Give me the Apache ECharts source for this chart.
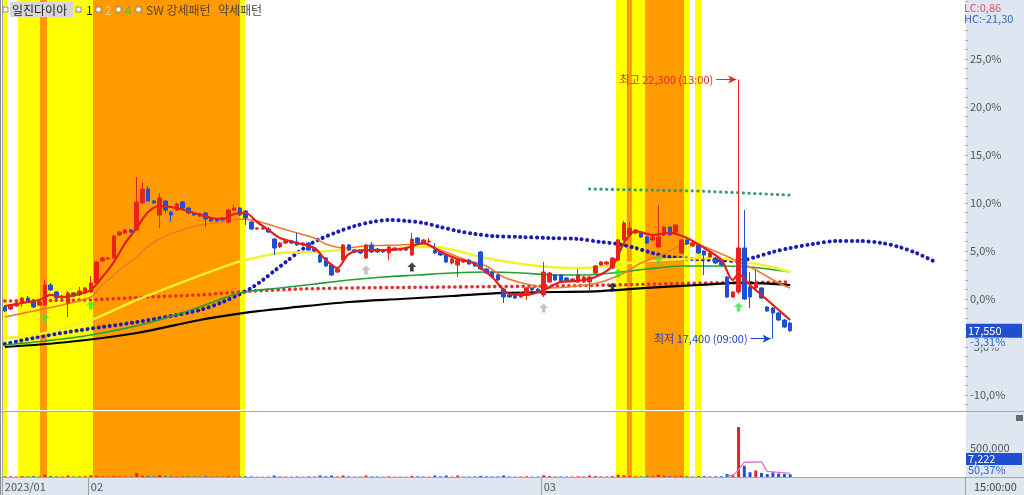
<!DOCTYPE html>
<html><head><meta charset="utf-8">
<script src="https://cdn.jsdelivr.net/npm/echarts@6/dist/echarts.min.js"></script>
<style>html,body{margin:0;padding:0;background:#fff}#c{width:1024px;height:495px}</style>
</head><body><div id="c"></div>
<script>
// ---------------- DATA ----------------
const SLOTS = 168;
const categories = Array.from({length: SLOTS}, (_, i) => String(i));
const xLabelIdx = [0, 15, 94];
const xLabelText = ['2023/01', '02', '03'];
const yLabelValues = [-10, -5, 0, 5, 10, 15, 20, 25];
const yMinorValues = [-11,-10,-9,-8,-7,-6,-5,-4,-3,-2,-1,0,1,2,3,4,5,6,7,8,9,10,11,12,13,14,15,16,17,18,19,20,21,22,23,24,25,26,27,28,29,30,31];

const openV = [-0.83,-1.04,-0.73,-0.42,0.10,-0.21,-0.63,-0.63,1.46,0.73,
0.10,-0.42,0.63,0.42,0.63,0.73,1.67,3.96,4.17,4.27,
6.67,6.88,7.19,7.19,10.00,11.46,10.21,8.75,10.21,9.06,
9.27,10.10,9.48,8.96,8.85,8.96,8.33,8.33,8.44,8.02,
9.27,9.48,9.17,8.02,7.29,7.29,7.29,6.25,5.42,5.83,
6.04,5.94,5.63,5.83,5.31,4.58,4.27,3.54,2.81,4.06,
5.63,5.10,5.00,4.27,5.63,5.21,5.10,4.79,5.10,5.10,
5.21,4.58,6.35,5.83,5.94,5.10,4.90,4.58,3.75,3.54,
3.85,4.06,3.75,4.90,3.13,2.81,2.50,1.04,0.42,0.52,
0.21,0.42,1.15,1.04,0.42,1.77,2.50,2.50,2.19,1.88,
1.77,1.77,1.77,2.71,3.54,3.65,3.23,4.06,6.15,6.67,
6.88,6.98,6.46,6.15,5.42,6.67,7.50,6.98,4.79,6.15,
5.52,5.63,5.00,4.38,4.27,4.06,2.29,0.21,0.73,5.31,
1.25,1.15,1.15,-0.83,-0.94,-1.46,-2.19,-2.50];
const closeV = [-1.25,-0.63,-0.42,0.10,-0.21,-0.83,-0.31,1.46,0.94,0.10,
0.31,0.63,0.31,0.83,1.15,1.67,3.85,4.27,4.27,6.56,
6.98,7.19,6.98,10.10,11.46,10.21,10.00,10.52,9.27,8.75,
9.90,9.48,8.96,8.75,8.65,8.33,8.13,8.13,8.23,9.27,
9.48,8.75,8.44,7.29,7.40,7.40,6.98,5.31,5.83,6.04,
5.83,5.63,5.83,5.10,5.00,3.85,3.44,2.50,3.13,5.63,
5.10,4.90,4.79,5.63,4.90,4.90,4.90,5.42,5.31,5.21,
5.10,6.25,5.83,6.15,6.04,4.79,4.58,3.85,4.17,4.06,
4.06,3.65,3.44,3.13,2.71,2.29,1.98,0.21,0.21,0.10,
0.63,1.15,0.94,0.83,2.81,2.71,1.98,1.77,1.88,2.08,
2.50,2.29,2.29,3.44,3.85,3.85,4.27,6.15,7.92,7.40,
7.19,6.46,5.83,6.46,6.46,7.50,6.67,7.71,6.15,5.73,
5.83,4.79,4.58,4.79,3.75,3.54,0.21,0.73,5.31,0,
0.21,1.77,0.10,-1.25,-1.46,-2.19,-2.92,-3.31];
const lowV = [-1.35,-1.15,-0.83,-0.83,-0.31,-0.94,-0.73,-0.73,0.83,0,
0,-1.88,0.21,0.31,0.52,0.63,1.56,3.85,4.06,4.17,
6.56,6.77,6.88,7.08,9.90,10.10,9.90,7.40,8.96,8.02,
9.17,9.38,8.85,8.65,8.54,7.50,8.02,8.02,8.13,7.92,
9.17,8.65,7.71,7.19,7.19,7.19,6.88,4.58,5.31,5.73,
5.73,5.52,5.52,5.00,4.90,3.75,3.33,2.40,2.71,3.96,
5.00,4.79,4.69,4.17,4.79,4.79,4.79,4.06,5.00,5.00,
5.00,4.48,5.73,5.73,5.83,4.69,4.48,3.75,3.65,2.29,
3.75,3.54,3.33,3.02,2.60,2.19,1.88,-0.42,0.10,0,
0.10,-0.10,0.83,0.73,0.21,1.67,1.88,1.67,1.77,1.77,
1.67,1.67,0.94,2.60,3.44,3.54,3.13,3.96,6.04,6.56,
6.77,6.35,5.73,6.04,5.31,6.56,6.56,6.88,4.69,5.63,
5.42,4.69,2.50,4.27,3.65,3.44,0.10,0.10,0.52,-0.10,
-0.94,1.04,0,-1.35,-4.14,-2.29,-3.02,-3.44];
const highV = [-0.63,-0.52,-0.31,0.21,0.31,-0.10,-0.21,1.98,1.67,0.83,
0.42,0.83,0.73,1.25,1.25,2.40,3.96,4.38,4.38,6.67,
7.08,7.29,7.29,12.71,12.19,11.77,10.31,11.04,10.31,9.17,
10.00,10.21,9.58,9.06,8.96,9.06,8.44,8.44,8.54,9.38,
9.79,9.58,9.27,8.13,7.50,7.50,7.50,6.35,5.94,6.15,
6.15,6.88,5.94,5.94,5.42,4.69,4.38,3.65,3.23,5.73,
5.73,5.21,5.10,5.73,5.94,5.31,5.21,5.52,5.42,5.31,
5.31,6.88,6.46,6.25,6.35,5.83,5.00,4.69,4.27,4.17,
4.17,4.17,3.85,5.00,3.23,2.92,2.60,1.15,0.52,0.63,
0.73,1.25,1.25,1.15,3.85,2.81,2.60,2.60,2.29,2.19,
3.13,2.40,2.40,3.54,3.96,3.96,4.38,6.25,8.13,8.02,
7.29,7.08,6.56,6.56,9.79,7.60,7.60,7.81,6.25,6.25,
5.94,5.73,5.10,4.90,4.38,4.17,2.40,0.83,22.86,9.27,
2.81,3.02,1.25,-0.73,-0.83,-1.35,-2.08,-2.40];

const volumeV = [9000,12000,8000,15000,10000,12000,9000,40000,14000,10000,
9000,25000,8000,10000,12000,30000,18000,10000,8000,16000,
9000,8000,7000,70000,20000,15000,9000,30000,12000,10000,
8000,9000,10000,7000,6000,12000,6000,5000,6000,14000,
8000,10000,12000,9000,6000,5000,7000,25000,10000,8000,
7000,9000,6000,10000,8000,25000,12000,25000,9000,25000,
10000,7000,6000,25000,9000,8000,6000,12000,7000,6000,
5000,20000,10000,8000,7000,25000,9000,25000,8000,25000,
7000,8000,9000,18000,10000,9000,10000,25000,8000,7000,
8000,12000,6000,7000,30000,15000,9000,10000,7000,8000,
12000,9000,25000,15000,10000,9000,14000,40000,30000,18000,
12000,10000,12000,9000,35000,15000,12000,14000,20000,10000,
9000,12000,14000,9000,10000,12000,50000,40000,846000,190000,
80000,110000,70000,50000,80000,60000,50000,45000];
const volMaPts = [[126,18000],[127,25000],[128,120000],[129,250000],[132,255000],[133,95000],[137,60000]];

// moving averages: [slot, percent]
const maRed = [[0,-0.73],[3,-0.42],[6,-0.10],[8,0.42],[10,0.21],[13,0.52],[15,0.94],[17,2.29],[19,3.85],[21,5.83],[23,7.40],[25,9.06],[27,9.69],[30,9.48],[33,8.96],[36,8.44],[38,8.33],[40,8.85],[42,8.96],[44,8.02],[46,7.19],[48,6.35],[51,5.83],[54,5.31],[56,4.06],[58,3.23],[60,4.69],[63,5.10],[67,5.10],[70,5.31],[73,5.83],[76,4.90],[79,4.17],[82,3.65],[85,2.29],[88,0.52],[91,0.42],[94,0.94],[97,1.77],[100,1.88],[103,2.29],[106,3.44],[108,5.83],[110,7.08],[113,6.67],[116,6.88],[119,6.35],[122,5.31],[125,4.06],[127,1.98],[128,2.60],[130,1.46],[133,-0.10],[135,-1.15],[137,-2.19]];
const maOrange = [[0,-1.88],[5,-1.25],[10,-0.63],[15,0.21],[17,1.46],[20,3.02],[23,4.38],[25,5.52],[28,6.56],[31,7.19],[34,7.71],[38,8.02],[41,8.33],[44,8.13],[48,7.40],[51,6.88],[54,6.35],[56,5.73],[59,5.31],[63,5.52],[69,5.63],[73,5.73],[76,5.10],[80,4.17],[84,3.44],[87,2.29],[91,1.56],[95,1.15],[100,1.35],[104,1.77],[108,2.71],[111,3.75],[115,4.69],[118,5.63],[120,5.83],[123,5.21],[127,4.17],[131,3.02],[135,1.67],[137,1.15]];
const maYellow = [[0,-4.06],[7,-3.54],[15,-2.19],[23,-0.10],[31,1.77],[39,3.54],[42,4.06],[48,4.79],[54,4.90],[60,5.10],[66,5.10],[71,5.42],[75,5.42],[79,5.00],[83,4.38],[89,3.75],[95,3.33],[101,3.23],[106,3.54],[112,3.96],[118,4.17],[124,4.27],[129,3.85],[133,3.44],[137,2.81]];
const maGreen = [[0,-4.79],[7,-4.38],[15,-3.75],[25,-2.50],[34,-0.83],[41,0.63],[48,1.15],[54,1.56],[60,1.98],[66,2.29],[72,2.50],[78,2.71],[84,2.81],[90,2.71],[96,2.50],[101,2.50],[106,2.71],[112,3.13],[118,3.44],[124,3.44],[130,3.33],[137,2.81]];
const maBlack = [[0,-5.00],[11,-4.48],[23,-3.54],[34,-2.19],[43,-1.35],[51,-0.83],[60,-0.31],[69,0],[78,0.31],[87,0.63],[96,0.73],[104,0.83],[112,1.15],[121,1.46],[129,1.67],[137,1.46]];
const dotRed = [[0,-0.21],[15,-0.10],[25,0.21],[34,0.42],[43,0.83],[51,1.04],[60,1.15],[78,1.25],[96,1.35],[106,1.46],[122,1.67],[137,1.77]];
const dotBlue = [[0,-4.69],[5,-4.06],[11,-3.44],[17,-2.92],[23,-2.40],[29,-1.77],[34,-1.15],[38,-0.31],[41,0.52],[43,1.15],[45,1.98],[47,2.92],[49,3.85],[51,4.79],[53,5.63],[55,6.25],[58,6.98],[61,7.60],[64,8.02],[67,8.23],[70,8.13],[73,7.92],[76,7.50],[79,7.08],[82,6.77],[85,6.56],[90,6.46],[95,6.35],[100,6.25],[104,5.94],[107,5.73],[110,5.31],[113,4.79],[116,4.38],[120,4.17],[124,4.06],[128,3.96],[131,4.38],[134,4.90],[137,5.31],[141,5.73],[145,6.04],[149,6.04],[153,5.83],[156,5.42],[159,4.79],[162,3.96]];
const dotGreen = [[102,11.46],[121,11.25],[137,10.83]];

const arrowIdx = [7, 15, 63, 71, 94, 106, 107, 114, 128];
const arrowVal = [-1.98, -0.63, 3.02, 3.33, -0.94, 1.25, 2.71, 4.06, -0.83];
const arrowColor = ['#3ce23c','#3ce23c','#b4b4b4','#111111','#b4b4b4','#111111','#3ce23c','#3ce23c','#3ce23c'];

// background pattern bands in slot units
const bandStart = [0.2, 2.79, 6.63, 7.85, 15.88, 41.52, 107.1, 109.0, 109.9, 112.2, 118.98, 120.9];
const bandEnd   = [0.9, 6.63, 7.85, 15.88, 41.52, 42.39, 109.0, 109.9, 112.2, 118.98, 120.0, 121.95];
const bandKind  = ['Y','Y','O','Y','O','Y','Y','O','Y','O','Y','Y'];

const highIdx = 128, highVal = 22.86, highText = '최고 22,300 (13:00)';
const lowIdx = 134, lowVal = -4.14, lowText = '최저 17,400 (09:00)';
const lastPriceText = '17,550', lastPctText = '-3,31%';
const volTagText = '7,222', volPctText = '50,37%';

// ---------------- CHART ----------------
const FONT = "'Noto Sans CJK KR','Noto Sans',sans-serif";
const YEL = '#ffff00', ORG = '#ff9a00';
const UP = '#e8231e', DN = '#1f50d4';
const PANEL = '#dde6f1';
const Y_MIN = -11.5625, Y_MAX = 31.146;
const chart = echarts.init(document.getElementById('c'));

const candleData = openV.map((o, i) => [o, closeV[i], lowV[i], highV[i]]);
const bandAreas = bandStart.map((s, i) => [
  {xAxis: s, itemStyle: {color: bandKind[i] === 'Y' ? YEL : ORG, opacity: 1}},
  {xAxis: bandEnd[i]}
]);
const arrowPath = 'path://M5,0 L10,5 L7,5 L7,10 L3,10 L3,5 L0,5 Z';
const dotStyle = (c, w, gap) => ({color: c, width: w, type: [0.1, gap], cap: 'round'});

const option = {
  animation: false,
  textStyle: {fontFamily: FONT},
  grid: [
    {left: 2, right: 59, top: 0, height: 410},
    {left: 2, right: 59, top: 412, height: 65}
  ],
  xAxis: [
    {type: 'category', gridIndex: 0, data: categories, boundaryGap: true,
     axisLine: {show: false}, axisTick: {show: false}, axisLabel: {show: false}, splitLine: {show: false}},
    {type: 'category', gridIndex: 1, data: categories, boundaryGap: true,
     axisLine: {show: true, lineStyle: {color: '#a0a0a0'}},
     axisTick: {show: true, length: 18, interval: (i) => xLabelIdx.includes(i), lineStyle: {color: '#a0a0a0'}},
     axisLabel: {interval: (i) => xLabelIdx.includes(i), align: 'left', color: '#555', fontSize: 11, margin: 4,
       formatter: (v, i) => { const k = xLabelIdx.indexOf(i); return k >= 0 ? xLabelText[k] : ''; }},
     splitLine: {show: false}},
    {type: 'value', gridIndex: 0, min: 0, max: SLOTS, show: false},
    {type: 'value', gridIndex: 1, min: 0, max: SLOTS, show: false}
  ],
  yAxis: [
    {type: 'value', gridIndex: 0, position: 'right', min: Y_MIN, max: Y_MAX,
     splitLine: {show: false},
     axisLine: {show: true, lineStyle: {color: '#a0a0a0'}},
     axisTick: {show: true, length: 5, customValues: yLabelValues, lineStyle: {color: '#999'}},
     axisLabel: {customValues: yLabelValues, color: '#555', fontSize: 11, margin: 5,
       formatter: v => v.toFixed(1).replace('.', ',') + '%'}},
    {type: 'value', gridIndex: 1, position: 'right', min: 0, max: 1100000, interval: 500000,
     splitLine: {show: false},
     axisLine: {show: true, lineStyle: {color: '#a0a0a0'}},
     axisTick: {show: true, length: 5, lineStyle: {color: '#999'}},
     minorTick: {show: true, splitNumber: 5, length: 3, lineStyle: {color: '#aaa'}},
     axisLabel: {color: '#555', fontSize: 11, margin: 5, formatter: v => v === 500000 ? '500,000' : ''}},
    {type: 'value', gridIndex: 0, position: 'right', min: Y_MIN, max: Y_MAX,
     splitLine: {show: false}, axisLine: {show: false},
     axisTick: {show: true, length: 3, customValues: yMinorValues, lineStyle: {color: '#aaa'}},
     axisLabel: {show: false}}
  ],
  series: [
    {type: 'line', name: 'bandsMain', xAxisIndex: 2, yAxisIndex: 0, data: [[0, 0]], symbol: 'none',
     lineStyle: {opacity: 0}, silent: true, z: 0,
     markArea: {silent: true, data: bandAreas}},
    {type: 'line', name: 'bandsVol', xAxisIndex: 3, yAxisIndex: 1, data: [[0, 0]], symbol: 'none',
     lineStyle: {opacity: 0}, silent: true, z: 0,
     markArea: {silent: true, data: bandAreas}},
    {type: 'line', xAxisIndex: 0, yAxisIndex: 0, data: dotRed, symbol: 'none', z: 2,
     lineStyle: dotStyle('#e8302a', 3.6, 5.6)},
    {type: 'line', xAxisIndex: 0, yAxisIndex: 0, data: dotBlue, symbol: 'none', smooth: 0.3, z: 2,
     lineStyle: dotStyle('#1c1cb4', 4, 5.5)},
    {type: 'line', xAxisIndex: 0, yAxisIndex: 0, data: dotGreen, symbol: 'none', z: 2,
     lineStyle: dotStyle('#3a9a6c', 3.2, 5.6)},
    {type: 'line', xAxisIndex: 0, yAxisIndex: 0, data: maBlack, symbol: 'none', smooth: 0.3, z: 3,
     lineStyle: {color: '#000', width: 2.2}},
    {type: 'line', xAxisIndex: 0, yAxisIndex: 0, data: maGreen, symbol: 'none', smooth: 0.3, z: 3,
     lineStyle: {color: '#22a032', width: 1.6}},
    {type: 'line', xAxisIndex: 0, yAxisIndex: 0, data: maYellow, symbol: 'none', smooth: 0.3, z: 3,
     lineStyle: {color: '#f4f22a', width: 2.4}},
    {type: 'line', xAxisIndex: 0, yAxisIndex: 0, data: maOrange, symbol: 'none', smooth: 0.3, z: 3,
     lineStyle: {color: '#f07a28', width: 1.6}},
    {type: 'candlestick', xAxisIndex: 0, yAxisIndex: 0, data: candleData, barWidth: 4, z: 4,
     itemStyle: {color: UP, color0: DN, borderColor: UP, borderColor0: DN, borderWidth: 1}},
    {type: 'line', xAxisIndex: 0, yAxisIndex: 0, data: maRed, symbol: 'none', smooth: 0.3, z: 5,
     lineStyle: {color: '#e41e1a', width: 2.2}},
    {type: 'scatter', xAxisIndex: 0, yAxisIndex: 0, z: 6, symbol: arrowPath, symbolSize: [9, 9],
     data: arrowIdx.map((ix, i) => ({value: [ix, arrowVal[i]], itemStyle: {color: arrowColor[i]}}))},
    {type: 'line', name: 'notes', xAxisIndex: 2, yAxisIndex: 0, data: [[0, 0]], symbol: 'none',
     lineStyle: {opacity: 0}, silent: true, z: 7,
     markLine: {silent: true, symbol: ['none', 'arrow'], symbolSize: [6, 8], animation: false,
       data: [
         [{coord: [highIdx - 3.4, highVal], lineStyle: {color: '#e02828', width: 1, type: 'solid'},
           label: {show: true, position: 'start', formatter: highText, color: '#e02828', fontSize: 11, fontFamily: FONT, distance: 3}},
          {coord: [highIdx + 0.1, highVal]}],
         [{coord: [lowIdx - 3.4, lowVal], lineStyle: {color: '#2040c8', width: 1, type: 'solid'},
           label: {show: true, position: 'start', formatter: lowText, color: '#2040c8', fontSize: 11, fontFamily: FONT, distance: 3}},
          {coord: [lowIdx + 0.1, lowVal]}]
       ]}},
    {type: 'bar', xAxisIndex: 1, yAxisIndex: 1, data: volumeV, barWidth: 3, z: 4,
     itemStyle: {color: p => closeV[p.dataIndex] >= openV[p.dataIndex] ? UP : DN}},
    {type: 'line', xAxisIndex: 1, yAxisIndex: 1, data: volMaPts, symbol: 'none', z: 5,
     lineStyle: {color: '#e070d8', width: 1.3}}
  ],
  graphic: []
};
chart.setOption(option);

// layout decorations (panels, legend, tags)
const lastY = chart.convertToPixel({yAxisIndex: 0}, closeV[closeV.length - 1]);
const g = [
  {type: 'rect', z: -10, silent: true, shape: {x: 966, y: 0, width: 58, height: 495}, style: {fill: PANEL}},
  {type: 'rect', z: -10, silent: true, shape: {x: 0, y: 478, width: 966, height: 17}, style: {fill: PANEL}},
  {type: 'line', z: 50, silent: true, shape: {x1: 0, y1: 411.5, x2: 1024, y2: 411.5}, style: {stroke: '#a8a8a8', lineWidth: 1}},
  {type: 'line', z: 50, silent: true, shape: {x1: 0, y1: 477.5, x2: 1024, y2: 477.5}, style: {stroke: '#a8a8a8', lineWidth: 1}},
  {type: 'line', z: 50, silent: true, shape: {x1: 0.5, y1: 0, x2: 0.5, y2: 495}, style: {stroke: '#8c8c8c', lineWidth: 1}},
  {type: 'line', z: 50, silent: true, shape: {x1: 965.5, y1: 477, x2: 965.5, y2: 495}, style: {stroke: '#a0a0a0', lineWidth: 1}},
  // legend
  {type: 'rect', z: 60, shape: {x: 10, y: 2, width: 63, height: 15}, style: {fill: '#d6d6d6'}},
  {type: 'rect', z: 60, shape: {x: 3, y: 7, width: 5, height: 5}, style: {fill: '#fff', stroke: '#888', lineWidth: 1}},
  {type: 'rect', z: 60, shape: {x: 76, y: 7, width: 5, height: 5}, style: {fill: '#fff', stroke: '#888', lineWidth: 1}},
  {type: 'rect', z: 60, shape: {x: 96, y: 7, width: 5, height: 5}, style: {fill: '#fff', stroke: '#888', lineWidth: 1}},
  {type: 'rect', z: 60, shape: {x: 116, y: 7, width: 5, height: 5}, style: {fill: '#fff', stroke: '#888', lineWidth: 1}},
  {type: 'rect', z: 60, shape: {x: 136, y: 7, width: 5, height: 5}, style: {fill: '#fff', stroke: '#888', lineWidth: 1}},
  {type: 'text', z: 61, x: 12, y: 10, style: {text: '일진다이아', fill: '#222', font: '12px ' + FONT, verticalAlign: 'middle'}},
  {type: 'text', z: 61, x: 86, y: 10, style: {text: '1', fill: '#222', font: '12px ' + FONT, verticalAlign: 'middle'}},
  {type: 'text', z: 61, x: 105, y: 10, style: {text: '2', fill: '#f2cf8c', font: '12px ' + FONT, verticalAlign: 'middle'}},
  {type: 'text', z: 61, x: 125, y: 10, style: {text: '4', fill: '#48c048', font: '12px ' + FONT, verticalAlign: 'middle'}},
  {type: 'text', z: 61, x: 146, y: 10, style: {text: 'SW 강세패턴', fill: '#5e4422', font: '12px ' + FONT, verticalAlign: 'middle'}},
  {type: 'text', z: 61, x: 218, y: 10, style: {text: '약세패턴', fill: '#4a4444', font: '12px ' + FONT, verticalAlign: 'middle'}},
  // right panel texts
  {type: 'text', z: 61, x: 964, y: 8, style: {text: 'LC:0,86', fill: '#e0506a', font: '11px ' + FONT, verticalAlign: 'middle'}},
  {type: 'text', z: 61, x: 964, y: 19, style: {text: 'HC:-21,30', fill: '#3a64c0', font: '11px ' + FONT, verticalAlign: 'middle'}},
  {type: 'rect', z: 61, shape: {x: 966, y: lastY - 7, width: 56, height: 14}, style: {fill: '#1f4fd0'}},
  {type: 'text', z: 62, x: 968, y: lastY, style: {text: lastPriceText, fill: '#fff', font: '11px ' + FONT, verticalAlign: 'middle'}},
  {type: 'rect', z: 61, shape: {x: 968, y: lastY + 7, width: 40, height: 10}, style: {fill: PANEL}},
  {type: 'text', z: 62, x: 970, y: lastY + 11, style: {text: lastPctText, fill: '#2f5fd8', font: '11px ' + FONT, verticalAlign: 'middle'}},
  {type: 'rect', z: 61, shape: {x: 1016, y: 415, width: 7, height: 6}, style: {fill: '#6a6a6a'}},
  {type: 'rect', z: 61, shape: {x: 966, y: 453, width: 56, height: 12}, style: {fill: '#1f4fd0'}},
  {type: 'text', z: 62, x: 968, y: 459, style: {text: volTagText, fill: '#fff', font: '11px ' + FONT, verticalAlign: 'middle'}},
  {type: 'text', z: 62, x: 968, y: 470, style: {text: volPctText, fill: '#2f5fd8', font: '11px ' + FONT, verticalAlign: 'middle'}},
  {type: 'text', z: 62, x: 974, y: 487, style: {text: '15:00:00', fill: '#444', font: '11px ' + FONT, verticalAlign: 'middle'}}
];
chart.setOption({graphic: g});
</script></body></html>
